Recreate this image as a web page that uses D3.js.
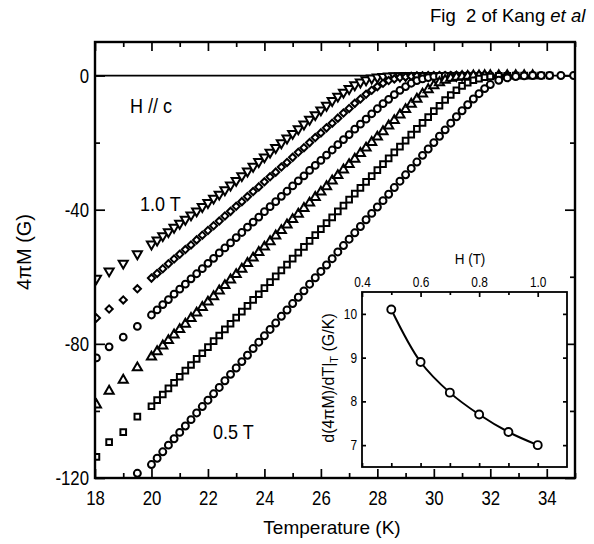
<!DOCTYPE html>
<html><head><meta charset="utf-8">
<script src="https://cdn.jsdelivr.net/npm/d3@7"></script>
<style>
html,body{margin:0;padding:0;background:#fff;}
svg text{font-family:"Liberation Sans", Arial, Helvetica, sans-serif; fill:#000;}
</style></head><body>
<svg id="chart" width="594" height="544"></svg>
<script>
// ---------------- data ----------------
const temps = [18.05, 18.5, 19.0, 19.5, 20.0,
 20.2, 20.4, 20.6, 20.8, 21.0, 21.2, 21.4, 21.6, 21.8, 22.0,
 22.2, 22.4, 22.6, 22.8, 23.0, 23.2, 23.4, 23.6, 23.8, 24.0,
 24.2, 24.4, 24.6, 24.8, 25.0, 25.2, 25.4, 25.6, 25.8, 26.0,
 26.2, 26.4, 26.6, 26.8, 27.0, 27.2, 27.4, 27.6, 27.8, 28.0,
 28.2, 28.4, 28.6, 28.8, 29.0, 29.2, 29.4, 29.6, 29.8, 30.0,
 30.2, 30.4, 30.6, 30.8, 31.0, 31.2, 31.4, 31.6, 31.8, 32.0,
 32.3, 32.6, 32.9, 33.2, 33.5, 33.8, 34.1, 34.5, 34.95];

const m10 = [-60.5, -58.3, -56.0, -53.2, -50.3,
 -49.1, -47.8, -46.6, -45.3, -44.1, -42.9, -41.6, -40.4, -39.1, -37.9,
 -36.6, -35.4, -34.1, -32.7, -31.3, -29.9, -28.5, -27.1, -25.7, -24.3,
 -22.9, -21.5, -20.1, -18.7, -17.3, -15.9, -14.5, -13.1, -11.7, -10.3,
 -8.9, -7.5, -6.2, -5.0, -3.9, -2.8, -2.0, -1.3, -0.8, -0.5,
 -0.3, -0.2, -0.1, -0.1, 0, 0, 0, 0, 0, 0,
 0, 0, 0, 0, 0, null, null, null, null, null,
 null, null, null, null, null, null, null, null, null];

const m09 = [-72.3, -69.6, -66.9, -63.6, -60.4,
 -59.0, -57.6, -56.1, -54.7, -53.3, -51.9, -50.5, -49.0, -47.6, -46.2,
 -44.8, -43.4, -41.9, -40.5, -39.0, -37.6, -36.1, -34.6, -33.2, -31.7,
 -30.2, -28.8, -27.3, -25.9, -24.4, -22.9, -21.5, -20.0, -18.5, -17.1,
 -15.6, -14.2, -12.7, -11.2, -9.8, -8.3, -7.0, -5.6, -4.4, -3.3,
 -2.3, -1.5, -1.0, -0.6, -0.4, -0.2, -0.1, -0.1, 0, 0,
 0, 0, 0, 0, 0, 0, 0, 0, 0, 0,
 null, null, null, null, null, null, null, null, null];

const m08 = [-84.2, -80.9, -78.0, -74.8, -71.4,
 -69.9, -68.3, -66.8, -65.2, -63.7, -62.2, -60.6, -59.1, -57.6, -56.0,
 -54.5, -52.9, -51.4, -49.9, -48.3, -46.8, -45.2, -43.7, -42.2, -40.6,
 -39.1, -37.6, -36.0, -34.5, -32.9, -31.4, -29.9, -28.3, -26.8, -25.3,
 -23.7, -22.2, -20.6, -19.1, -17.6, -16.0, -14.5, -13.0, -11.4, -9.9,
 -8.4, -7.1, -5.7, -4.4, -3.3, -2.3, -1.5, -1.0, -0.6, -0.3,
 -0.2, -0.1, -0.1, 0, 0, 0, 0, 0, 0, 0,
 0, 0, 0, null, null, null, null, null, null];

const m07 = [-98.2, -94.1, -90.8, -87.1, -83.9,
 -82.3, -80.6, -79.0, -77.3, -75.7, -74.1, -72.4, -70.8, -69.1, -67.5,
 -65.9, -64.2, -62.6, -60.9, -59.3, -57.7, -56.0, -54.4, -52.7, -51.1,
 -49.5, -47.8, -46.2, -44.5, -42.9, -41.3, -39.6, -38.0, -36.3, -34.7,
 -33.1, -31.4, -29.8, -28.1, -26.5, -24.9, -23.2, -21.6, -19.9, -18.3,
 -16.7, -15.0, -13.4, -11.7, -10.1, -8.5, -7.0, -5.5, -4.2, -3.0,
 -2.1, -1.4, -0.8, -0.5, -0.3, -0.2, -0.1, -0.1, 0, 0,
 0, 0, 0, 0, 0, null, null, null, null];

const m06 = [-113.7, -109.3, -106.3, -101.7, -98.6,
 -96.8, -95.1, -93.3, -91.6, -89.8, -88.0, -86.3, -84.5, -82.8, -81.0,
 -79.2, -77.5, -75.7, -74.0, -72.2, -70.4, -68.7, -66.9, -65.2, -63.4,
 -61.6, -59.9, -58.1, -56.4, -54.6, -52.8, -51.1, -49.3, -47.6, -45.8,
 -44.0, -42.3, -40.5, -38.8, -37.0, -35.2, -33.5, -31.7, -30.0, -28.2,
 -26.4, -24.7, -22.9, -21.2, -19.4, -17.6, -15.9, -14.1, -12.4, -10.6,
 -9.0, -7.3, -5.8, -4.4, -3.1, -2.1, -1.4, -0.9, -0.5, -0.3,
 -0.1, -0.1, 0, 0, 0, 0, 0, null, null];

const m05 = [null, null, null, -118.6, -116.0,
 -114.1, -112.2, -110.2, -108.3, -106.4, -104.5, -102.6, -100.6, -98.7, -96.8,
 -94.9, -93.0, -91.0, -89.1, -87.2, -85.3, -83.4, -81.4, -79.5, -77.6,
 -75.7, -73.8, -71.8, -69.9, -68.0, -66.1, -64.2, -62.2, -60.3, -58.4,
 -56.5, -54.6, -52.6, -50.7, -48.8, -46.9, -45.0, -43.0, -41.1, -39.2,
 -37.3, -35.4, -33.4, -31.5, -29.6, -27.7, -25.8, -23.8, -21.9, -20.0,
 -18.1, -16.2, -14.2, -12.3, -10.5, -8.7, -7.0, -5.4, -3.9, -2.7,
 -1.4, -0.7, -0.3, -0.1, 0, 0, 0, 0, 0];

const fieldsT = [0.5, 0.6, 0.7, 0.8, 0.9, 1.0];
const slopesGK = [10.1, 8.9, 8.2, 7.7, 7.3, 7.0];

const xMajorTicks = [18, 20, 22, 24, 26, 28, 30, 32, 34];
const xMinorTicks = [19, 21, 23, 25, 27, 29, 31, 33, 35];
const yMajorTicks = [-120, -80, -40, 0];
const yMinorTicks = [-100, -60, -20];
const insetXTicks = [0.4, 0.6, 0.8, 1.0];
const insetXMinor = [0.5, 0.7, 0.9];
const insetYTicks = [7, 8, 9, 10];

const titleText = "Fig  2 of Kang ";
const titleItalic = "et al";
const xLabel = "Temperature (K)";
const yLabel = "4\u03c0M (G)";

// ---------------- layout ----------------
const svg = d3.select("#chart");
const P = {l: 95, r: 575, t: 42, b: 478};
const x = d3.scaleLinear().domain([18, 35]).range([P.l, P.r]);
const y = d3.scaleLinear().domain([-120, 10]).range([P.b, P.t]);

svg.append("rect").attr("width", 594).attr("height", 544).attr("fill", "#fff");

function squeezeText(sel, sx) {
  sel.each(function() {
    const t = d3.select(this);
    const xx = +t.attr("x") || 0;
    t.attr("x", xx / sx).attr("transform", `scale(${sx},1)`);
  });
}

function styleAxis(g) {
  g.select(".domain").remove();
  g.selectAll(".tick line").attr("stroke", "#000").attr("stroke-width", 1.7);
}

const tickFont = 21, tickSx = 0.8;
svg.append("g").attr("transform", `translate(0,${P.b})`)
  .call(d3.axisBottom(x).tickValues(xMinorTicks).tickSize(-5).tickFormat(""))
  .call(styleAxis);
const gxb = svg.append("g").attr("transform", `translate(0,${P.b})`)
  .call(d3.axisBottom(x).tickValues(xMajorTicks).tickSize(-9).tickPadding(12).tickFormat(d => String(d)))
  .call(styleAxis);
gxb.selectAll("text").attr("font-size", tickFont).attr("font-family", null).call(squeezeText, tickSx);

svg.append("g").attr("transform", `translate(0,${P.t})`)
  .call(d3.axisTop(x).tickValues(xMinorTicks).tickSize(-5).tickFormat(""))
  .call(styleAxis);
svg.append("g").attr("transform", `translate(0,${P.t})`)
  .call(d3.axisTop(x).tickValues(xMajorTicks).tickSize(-9).tickFormat(""))
  .call(styleAxis);

svg.append("g").attr("transform", `translate(${P.l},0)`)
  .call(d3.axisLeft(y).tickValues(yMinorTicks).tickSize(-5).tickFormat(""))
  .call(styleAxis);
const gyl = svg.append("g").attr("transform", `translate(${P.l},0)`)
  .call(d3.axisLeft(y).tickValues(yMajorTicks).tickSize(-10).tickPadding(6).tickFormat(d => String(d)))
  .call(styleAxis);
gyl.selectAll("text").attr("font-size", tickFont).attr("font-family", null).call(squeezeText, tickSx);

svg.append("g").attr("transform", `translate(${P.r},0)`)
  .call(d3.axisRight(y).tickValues(yMinorTicks).tickSize(-5).tickFormat(""))
  .call(styleAxis);
svg.append("g").attr("transform", `translate(${P.r},0)`)
  .call(d3.axisRight(y).tickValues(yMajorTicks).tickSize(-10).tickFormat(""))
  .call(styleAxis);

svg.append("line")
  .attr("x1", x(18)).attr("x2", x(35)).attr("y1", y(0)).attr("y2", y(0))
  .attr("stroke", "#000").attr("stroke-width", 1.8);

svg.append("clipPath").attr("id", "plotclip").append("rect")
  .attr("x", P.l).attr("y", P.t).attr("width", P.r - P.l).attr("height", P.b - P.t);

const series = [
  {vals: m10, type: d3.symbolTriangle, size: 36, rot: 180},
  {vals: m09, type: d3.symbolSquare, size: 26, rot: 45},
  {vals: m08, type: d3.symbolCircle, size: 36, rot: 0},
  {vals: m07, type: d3.symbolTriangle, size: 36, rot: 0},
  {vals: m06, type: d3.symbolSquare, size: 32, rot: 0},
  {vals: m05, type: d3.symbolCircle, size: 38, rot: 0}
];
const gData = svg.append("g").attr("clip-path", "url(#plotclip)");
series.forEach(s => {
  const pts = temps.map((t, i) => ({t, m: s.vals[i]})).filter(d => d.m !== null);
  const sym = d3.symbol().type(s.type).size(s.size);
  gData.append("g").selectAll("path").data(pts).join("path")
    .attr("d", sym)
    .attr("transform", d => `translate(${x(d.t)},${y(d.m)}) rotate(${s.rot})`)
    .attr("fill", "#fff").attr("stroke", "#000").attr("stroke-width", 2);
});

svg.append("rect").attr("x", P.l).attr("y", P.t).attr("width", P.r - P.l).attr("height", P.b - P.t)
  .attr("fill", "none").attr("stroke", "#000").attr("stroke-width", 2.4);

function sText(str, xx, yy, size, sx, anchor) {
  return svg.append("text").attr("transform", `translate(${xx},${yy}) scale(${sx},1)`)
    .attr("font-size", size).attr("text-anchor", anchor || "start").text(str);
}
sText("H // c", 130, 113, 20, 0.9);
sText("1.0 T", 140, 211, 20, 0.9);
sText("0.5 T", 213, 439, 20, 0.9);

svg.append("text").attr("x", P.l + (P.r - P.l) / 2 - 3).attr("y", 534)
  .attr("text-anchor", "middle").attr("font-size", 19).text(xLabel);
svg.append("text").attr("transform", "translate(31,252) rotate(-90)")
  .attr("text-anchor", "middle").attr("font-size", 20).text(yLabel);

const title = svg.append("text").attr("x", 430).attr("y", 22).attr("font-size", 18.5)
  .attr("xml:space", "preserve").style("white-space", "pre");
title.append("tspan").text(titleText);
title.append("tspan").attr("font-style", "italic").text(titleItalic);

// ---------------- inset ----------------
const I = {l: 362, r: 567, t: 292, b: 467};
const xi = d3.scaleLinear().domain([0.4, 1.1]).range([I.l, I.r]);
const yi = d3.scaleLinear().domain([6.5, 10.5]).range([I.b, I.t]);
svg.append("rect").attr("x", I.l).attr("y", I.t).attr("width", I.r - I.l).attr("height", I.b - I.t)
  .attr("fill", "#fff");

const insFont = 14, insSx = 0.85;
const gti = svg.append("g").attr("transform", `translate(0,${I.t})`)
  .call(d3.axisTop(xi).tickValues(insetXTicks).tickSize(-5).tickPadding(5).tickFormat(d3.format(".1f")))
  .call(styleAxis);
gti.selectAll("text").attr("font-size", insFont).attr("font-family", null).call(squeezeText, insSx);
svg.append("g").attr("transform", `translate(0,${I.t})`)
  .call(d3.axisTop(xi).tickValues(insetXMinor).tickSize(-3).tickFormat(""))
  .call(styleAxis);
svg.append("g").attr("transform", `translate(0,${I.b})`)
  .call(d3.axisBottom(xi).tickValues(insetXTicks.concat(insetXMinor)).tickSize(-4).tickFormat(""))
  .call(styleAxis);
const gli = svg.append("g").attr("transform", `translate(${I.l},0)`)
  .call(d3.axisLeft(yi).tickValues(insetYTicks).tickSize(-4).tickPadding(5).tickFormat(d => String(d)))
  .call(styleAxis);
gli.selectAll("text").attr("font-size", insFont).attr("font-family", null).call(squeezeText, insSx);
svg.append("g").attr("transform", `translate(${I.r},0)`)
  .call(d3.axisRight(yi).tickValues(insetYTicks).tickSize(-4).tickFormat(""))
  .call(styleAxis);

const insPts = fieldsT.map((h, i) => ({h, s: slopesGK[i]}));
svg.append("path").datum(insPts)
  .attr("d", d3.line().x(d => xi(d.h)).y(d => yi(d.s)).curve(d3.curveCatmullRom.alpha(0.5)))
  .attr("fill", "none").attr("stroke", "#000").attr("stroke-width", 2);
svg.append("g").selectAll("circle").data(insPts).join("circle")
  .attr("cx", d => xi(d.h)).attr("cy", d => yi(d.s)).attr("r", 4)
  .attr("fill", "#fff").attr("stroke", "#000").attr("stroke-width", 1.9);

svg.append("rect").attr("x", I.l).attr("y", I.t).attr("width", I.r - I.l).attr("height", I.b - I.t)
  .attr("fill", "none").attr("stroke", "#000").attr("stroke-width", 1.8);

sText("H (T)", 470, 264, 15, 0.9, "middle");
const iyl = svg.append("text").attr("transform", "translate(334,378) rotate(-90)")
  .attr("text-anchor", "middle").attr("font-size", 16);
iyl.append("tspan").text("d(4\u03c0M)/dT|");
iyl.append("tspan").attr("font-size", 11).attr("dy", 4).text("T");
iyl.append("tspan").attr("dy", -4).text(" (G/K)");
</script>
</body></html>
